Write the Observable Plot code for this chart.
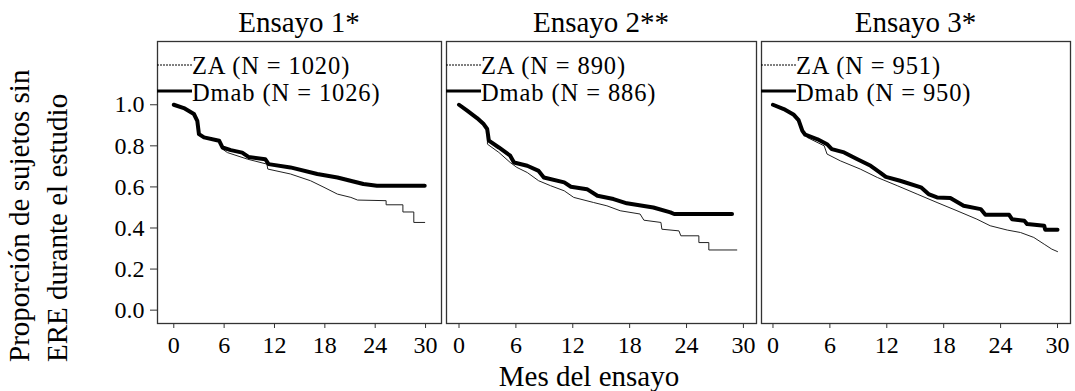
<!DOCTYPE html>
<html>
<head>
<meta charset="utf-8">
<script src="https://cdn.jsdelivr.net/npm/d3@7"></script>
<script src="https://cdn.jsdelivr.net/npm/@observablehq/plot@0.6"></script>
<style>
  html, body { margin: 0; padding: 0; background: #fff; }
  #chart { position: relative; width: 1075px; height: 391px; overflow: hidden; }
  #chart svg.panel { position: absolute; top: 0; }
  #overlay { position: absolute; left: 0; top: 0; pointer-events: none; }
  #overlay text { font-family: 'Liberation Serif', 'Times New Roman', serif; fill: #000; }
</style>
</head>
<body>
<div id="chart"></div>
<script>
// ---- Data ----
const titulos = ["Ensayo 1*", "Ensayo 2**", "Ensayo 3*"];
const leyendaZA = ["ZA (N = 1020)", "ZA (N = 890)", "ZA (N = 951)"];
const leyendaDmab = ["Dmab (N = 1026)", "Dmab (N = 886)", "Dmab (N = 950)"];
const tituloY = ["Proporción de sujetos sin", "ERE durante el estudio"];
const tituloX = "Mes del ensayo";
const mesTicks = [0, 6, 12, 18, 24, 30];
const propTicks = [0, 0.2, 0.4, 0.6, 0.8, 1.0];

// [mes, proporción]
const ensayo1Dmab = [[0,1.0],[1.2,0.984],[2.4,0.955],[2.8,0.922],[3.0,0.857],[3.6,0.841],[5.4,0.825],[5.8,0.792],[6.8,0.779],[8.15,0.767],[8.9,0.746],[10.9,0.735],[11.3,0.711],[13.9,0.695],[17.1,0.663],[19.5,0.646],[22.6,0.614],[24.2,0.606],[29.9,0.606]];
const ensayo1ZA = [[0,1.0],[1.2,0.984],[2.4,0.955],[2.8,0.922],[3.0,0.857],[3.6,0.841],[5.4,0.822],[5.8,0.784],[6.4,0.767],[8.8,0.735],[11.1,0.711],[11.2,0.687],[13.9,0.663],[16.3,0.630],[17.9,0.598],[19.5,0.565],[21.1,0.549],[21.9,0.536],[25.3,0.533],[25.3,0.513],[27.3,0.513],[27.3,0.478],[28.6,0.478],[28.6,0.427],[29.9,0.427]];

const ensayo2Dmab = [[0,1.0],[0.86,0.971],[1.9,0.935],[2.6,0.906],[2.97,0.882],[3.15,0.825],[4.2,0.792],[5.4,0.752],[5.8,0.719],[7.2,0.703],[8.4,0.678],[8.95,0.646],[11.1,0.622],[11.8,0.601],[13.5,0.589],[14.6,0.557],[16.3,0.541],[17.7,0.520],[20.5,0.500],[22.3,0.476],[22.7,0.468],[28.8,0.468]];
const ensayo2ZA = [[0,1.0],[0.86,0.971],[1.9,0.935],[2.6,0.906],[2.97,0.882],[3.0,0.808],[4.2,0.768],[5.4,0.719],[6.1,0.695],[7.2,0.670],[8.4,0.630],[9.65,0.606],[11.1,0.581],[12.1,0.549],[14.2,0.524],[15.6,0.508],[17.0,0.484],[19.1,0.468],[19.5,0.438],[21.3,0.427],[21.4,0.394],[23.2,0.386],[23.4,0.362],[25.3,0.362],[25.3,0.329],[26.35,0.329],[26.35,0.293],[29.3,0.293]];

const ensayo3Dmab = [[0,1.0],[1.14,0.979],[2.2,0.951],[2.7,0.925],[3.1,0.873],[3.4,0.854],[4.7,0.832],[5.7,0.808],[6.2,0.784],[7.5,0.768],[8.9,0.735],[10.3,0.703],[11.3,0.670],[11.9,0.649],[13.4,0.630],[15.6,0.598],[16.4,0.565],[17.3,0.549],[18.7,0.546],[20.1,0.508],[21.9,0.492],[22.4,0.464],[24.9,0.464],[25.2,0.443],[26.5,0.435],[26.8,0.419],[28.6,0.411],[28.7,0.392],[30.0,0.392]];
const ensayo3ZA = [[0,1.0],[1.14,0.979],[2.2,0.951],[2.7,0.925],[3.1,0.873],[3.6,0.841],[5.4,0.800],[5.7,0.760],[7.1,0.727],[9.2,0.687],[11.0,0.646],[13.1,0.606],[15.2,0.565],[17.3,0.524],[19.4,0.484],[21.5,0.443],[22.9,0.411],[24.7,0.390],[26.1,0.378],[27.5,0.354],[28.6,0.321],[29.4,0.297],[30.0,0.285]];

const seriesZA = [ensayo1ZA, ensayo2ZA, ensayo3ZA];
const seriesDmab = [ensayo1Dmab, ensayo2Dmab, ensayo3Dmab];

// ---- Layout (pixels) ----
const layout = [
  {left: 0,   width: 445, ml: 157, mr: 4, domain: [-1.94, 31.9]},
  {left: 443, width: 316, ml: 3,   mr: 3, domain: [-1.32, 31.38]},
  {left: 758, width: 317, ml: 3,   mr: 5, domain: [-1.21, 31.37]}
];
const H = 391, MT = 41, MB = 68;
const font = "'Liberation Serif', 'Times New Roman', serif";
const chart = document.getElementById("chart");

layout.forEach((L, i) => {
  const marks = [
    Plot.line(seriesZA[i], {x: d => d[0], y: d => d[1], stroke: "#222", strokeWidth: 1}),
    Plot.line(seriesDmab[i], {x: d => d[0], y: d => d[1], stroke: "#000", strokeWidth: 4, strokeLinejoin: "round", strokeLinecap: "round"}),
    Plot.frame({stroke: "#333", strokeWidth: 1.3}),
    Plot.axisX({ticks: mesTicks, tickSize: 5, tickPadding: 7, stroke: "#333", label: null, fontFamily: font})
  ];
  if (i === 0) {
    marks.push(Plot.axisY({ticks: propTicks, tickFormat: d3.format(".1f"), tickSize: 7, tickPadding: 6, stroke: "#333", label: null, fontFamily: font}));
  }
  const yOpts = {domain: [-0.065, 1.308]};
  if (i > 0) yOpts.axis = null;
  const svg = Plot.plot({
    width: L.width, height: H,
    marginLeft: L.ml, marginRight: L.mr, marginTop: MT, marginBottom: MB,
    x: {domain: L.domain},
    y: yOpts,
    style: {fontFamily: font, fontSize: "24px", background: "transparent", overflow: "visible", color: "#000"},
    marks
  });
  svg.classList.add("panel");
  svg.style.left = L.left + "px";
  svg.style.width = L.width + "px";
  svg.style.height = H + "px";
  svg.style.maxWidth = "none";
  chart.appendChild(svg);
});

// ---- Overlay texts (titles, legends, axis titles) ----
const ns = "http://www.w3.org/2000/svg";
const ov = document.createElementNS(ns, "svg");
ov.setAttribute("id", "overlay");
ov.setAttribute("width", 1075);
ov.setAttribute("height", H);
chart.appendChild(ov);
function addText(str, attrs) {
  const t = document.createElementNS(ns, "text");
  for (const k in attrs) t.setAttribute(k, attrs[k]);
  t.textContent = str;
  ov.appendChild(t);
  return t;
}
function addLine(x1, x2, y, w, dash) {
  const l = document.createElementNS(ns, "line");
  l.setAttribute("x1", x1); l.setAttribute("x2", x2);
  l.setAttribute("y1", y); l.setAttribute("y2", y);
  l.setAttribute("stroke", "#000");
  l.setAttribute("stroke-width", w);
  if (dash) l.setAttribute("stroke-dasharray", dash);
  ov.appendChild(l);
}
layout.forEach((L, i) => {
  const fx0 = L.left + L.ml, fx1 = L.left + L.width - L.mr;
  addText(titulos[i], {x: (fx0 + fx1) / 2, y: 32, "text-anchor": "middle", "font-size": 29});
  addLine(fx0, fx0 + 35, 65, 1, "2 1");
  addLine(fx0, fx0 + 35, 91, 3);
  addText(leyendaZA[i], {x: fx0 + 35, y: 73.5, "font-size": 24.5, "letter-spacing": 0.9});
  addText(leyendaDmab[i], {x: fx0 + 35, y: 101, "font-size": 24.5, "letter-spacing": 0.9});
});
addText(tituloY[0], {transform: "translate(29,362) rotate(-90)", "font-size": 29});
addText(tituloY[1], {transform: "translate(67,362) rotate(-90)", "font-size": 29});
addText(tituloX, {x: 589, y: 386, "text-anchor": "middle", "font-size": 29});
</script>
</body>
</html>
